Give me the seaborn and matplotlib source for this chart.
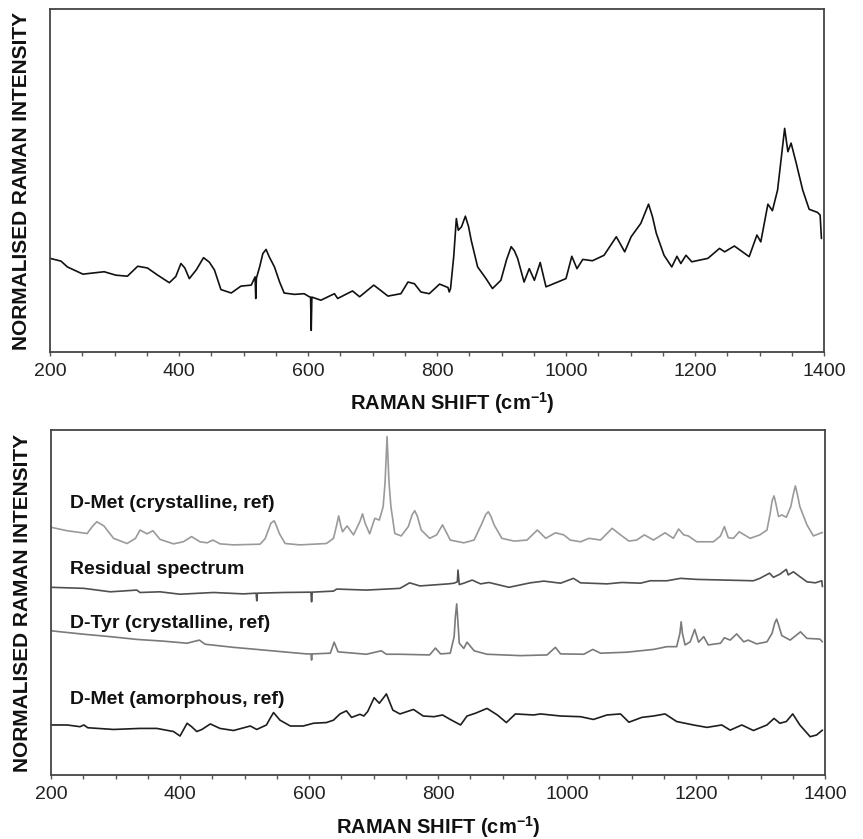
import numpy as np
import pandas as pd
import matplotlib
matplotlib.use("Agg")
import matplotlib.pyplot as plt
from matplotlib.ticker import MultipleLocator
import seaborn as sns

# ---------------- data ----------------
top_x = [200, 217, 227, 251, 284, 302, 320, 336, 351, 367, 385, 395, 403, 409, 416, 427, 438, 447, 455, 465, 481, 496, 512,
         518, 519, 520, 525, 530, 535, 540, 548, 556, 563, 579, 594, 602, 604, 605, 606, 620, 641, 646, 669, 680, 702, 724,
         744, 755, 765, 775, 788, 804, 817, 819, 821, 826, 830, 833, 838, 844, 849, 853, 863, 876, 886, 899, 908, 915,
         920, 925, 935, 943, 951, 960, 969, 982, 1000, 1009, 1017, 1026, 1041, 1059, 1078, 1091, 1101, 1116,
         1128, 1134, 1140, 1152, 1164, 1172, 1178, 1186, 1195, 1220, 1238, 1246, 1261, 1284, 1296, 1302, 1313,
         1320, 1328, 1334, 1339, 1344, 1349, 1357, 1367, 1377, 1390, 1394, 1396]
top_y = [27.3, 26.5, 24.8, 22.7, 23.4, 22.4, 22.1, 25.0, 24.5, 22.4, 20.2, 22.0, 25.8, 24.5, 21.4, 24.0, 27.5, 26.2, 23.9, 18.2, 17.2, 19.2, 19.5,
         21.9, 15.6, 21.5, 24.8, 28.7, 29.9, 27.7, 24.8, 20.4, 17.2, 16.8, 17.0, 16.1, 16.0, 6.3, 16.0, 15.1, 17.0, 15.6, 17.8, 16.1, 19.5, 16.3,
         17.0, 20.4, 19.9, 17.5, 17.0, 19.8, 18.8, 17.5, 18.5, 28.0, 38.9, 35.5, 36.5, 39.6, 36.5, 32.6, 24.8, 21.4, 18.5, 20.9, 27.0, 30.7,
         29.5, 27.3, 20.4, 24.3, 20.9, 26.1, 19.0, 20.0, 21.4, 27.9, 24.3, 27.0, 26.6, 28.2, 33.6, 29.2, 33.6, 37.5,
         43.1, 39.5, 34.6, 28.2, 24.8, 27.9, 25.8, 28.2, 26.3, 27.3, 30.2, 29.2, 30.9, 27.8, 34.1, 32.1, 43.1,
         41.2, 47.2, 57.0, 65.2, 58.4, 60.9, 55.0, 47.2, 41.6, 40.7, 39.9, 33.1]

met_cryst_x = [200, 225, 256, 264, 271, 282, 297, 318, 331, 338, 349, 358, 369, 390, 405, 418, 431, 442, 451, 462, 483,
               524, 532, 537, 541, 546, 550, 554, 563, 586, 627, 638, 643, 646, 649, 652, 659, 669, 679, 683, 687, 694, 702, 709, 715, 718, 721, 724, 727, 733,
               743, 754, 760, 764, 768, 774, 787, 798, 807, 819, 840, 856, 868, 874, 878, 882, 887, 899, 918, 938, 954, 967, 982, 995,
               1005, 1021, 1034, 1052, 1070, 1083, 1096, 1108, 1120, 1134, 1152, 1165, 1173, 1181, 1188, 1201,
               1227, 1238, 1244, 1250, 1258, 1267, 1284, 1299, 1310, 1315, 1318, 1321, 1324, 1328, 1333, 1340, 1347, 1351, 1354,
               1357, 1361, 1372, 1382, 1396]
met_cryst_y = [71.8, 70.8, 70.0, 72.0, 73.4, 72.2, 68.6, 67.1, 68.6, 71.0, 69.9, 70.8, 68.3, 67.0, 67.6, 69.1, 67.6, 67.3, 68.1, 67.0, 66.7,
               66.9, 68.5, 71.0, 73.0, 73.7, 72.0, 70.0, 67.1, 66.7, 67.1, 68.6, 72.5, 75.1, 72.5, 70.5, 72.2, 69.6, 73.5, 75.7, 73.0, 69.9, 74.4, 73.9, 77.8, 85.0, 98.1, 85.0, 77.8, 70.0,
               69.3, 72.0, 75.5, 76.6, 75.0, 71.0, 68.6, 69.6, 72.5, 68.1, 67.3, 68.1, 72.9, 75.5, 76.3, 75.0, 72.5, 68.6, 67.8, 68.1, 71.0, 68.6, 70.2, 69.6,
               68.1, 67.6, 68.6, 68.1, 71.5, 69.6, 67.8, 68.1, 69.6, 68.1, 70.2, 68.6, 71.3, 69.6, 69.3, 67.6,
               67.6, 69.3, 72.0, 68.8, 68.6, 70.5, 68.6, 69.6, 71.0, 75.8, 79.5, 80.9, 78.5, 74.9, 75.4, 74.7, 77.8, 81.5, 83.8,
               81.5, 77.8, 72.5, 69.3, 70.3]

residual_x = [200, 251, 292, 333, 338, 369, 400, 452, 498, 518, 519, 520, 560, 603, 604, 605, 638, 643, 689, 741,
              756, 772, 816, 825, 830, 831, 833, 840, 853, 866, 879, 910, 943, 964, 990, 1010, 1021, 1062, 1085,
              1114, 1129, 1155, 1176, 1201, 1289, 1299, 1314, 1320, 1330, 1340, 1343, 1351, 1361, 1372, 1385,
              1395, 1396]
residual_y = [54.4, 54.1, 53.1, 53.6, 52.9, 53.1, 52.4, 52.9, 52.5, 52.7, 50.5, 52.7, 52.9, 53.0, 50.2, 53.0, 53.3, 53.9, 53.6, 54.1,
              55.7, 54.8, 55.4, 55.6, 56.0, 59.4, 55.2, 55.6, 56.5, 55.4, 55.8, 54.4, 55.7, 56.2, 55.6, 57.0, 55.7, 55.4, 55.8,
              55.6, 56.3, 56.3, 57.0, 56.7, 56.3, 57.0, 58.5, 57.3, 58.2, 59.6, 58.0, 58.9, 57.5, 56.0, 55.7,
              56.3, 54.6]

tyr_x = [200, 251, 292, 333, 374, 411, 430, 439, 483, 519, 560, 596, 603, 604, 605, 633, 639, 645, 689, 712,
         720, 741, 787, 796, 804, 819, 825, 827, 829, 831, 833, 840, 845, 856, 876, 928, 969, 982, 990, 1026, 1040,
         1052, 1093, 1134, 1155, 1170, 1175, 1177, 1179, 1183, 1191, 1198, 1204, 1212, 1219, 1238, 1244, 1253, 1263,
         1274, 1281, 1294, 1310, 1318, 1322, 1325, 1328, 1333, 1346, 1356, 1362, 1372, 1392, 1396]
tyr_y = [41.8, 40.8, 40.1, 39.3, 38.8, 38.2, 39.1, 37.9, 37.0, 36.4, 35.7, 35.1, 35.1, 33.3, 35.1, 35.3, 38.5, 35.7, 35.0, 36.0,
         35.0, 35.0, 34.8, 36.8, 35.1, 35.3, 40.1, 46.0, 49.6, 44.0, 38.2, 36.7, 38.5, 36.0, 35.0, 34.6, 34.8, 37.0, 35.1, 35.0, 36.4,
         35.3, 35.6, 36.4, 37.2, 37.2, 41.0, 44.4, 41.0, 37.7, 38.6, 42.2, 38.5, 40.1, 37.7, 38.2, 39.8, 39.1, 40.9,
         38.6, 39.1, 38.0, 38.6, 41.1, 44.0, 45.2, 43.5, 40.4, 39.1, 40.6, 41.5, 39.6, 39.4, 38.6]

met_amor_x = [200, 225, 245, 251, 257, 297, 338, 364, 390, 400, 411, 418, 426, 434, 447, 462, 483, 509, 519, 534,
              540, 545, 555, 571, 591, 607, 627, 638, 648, 658, 666, 679, 685, 691, 701, 709, 716, 720, 730, 741, 762, 777,
              794, 807, 819, 835, 845, 858, 876, 892, 906, 920, 948, 959, 990, 1021, 1041, 1062, 1083, 1096,
              1116, 1134, 1152, 1170, 1196, 1217, 1240, 1253, 1271, 1289, 1310, 1321, 1330, 1340, 1350, 1361,
              1377, 1387, 1396]
met_amor_y = [14.5, 14.5, 14.0, 14.5, 13.7, 13.2, 13.5, 13.5, 12.6, 11.3, 15.0, 14.0, 12.6, 13.2, 14.8, 13.5, 12.9, 14.2, 13.2, 14.5,
              16.5, 18.1, 15.9, 14.2, 14.2, 15.0, 15.2, 15.9, 17.7, 18.6, 16.7, 17.6, 17.1, 18.4, 22.4, 20.8, 22.5, 23.5, 18.8, 17.7, 19.0, 17.1,
              16.9, 17.4, 16.1, 14.5, 17.1, 17.9, 19.3, 17.4, 15.2, 17.7, 17.4, 17.7, 17.1, 16.9, 16.1, 17.4, 17.7, 15.3,
              16.7, 17.1, 17.7, 15.5, 14.5, 13.8, 14.5, 13.0, 14.5, 12.9, 14.5, 16.4, 15.0, 15.5, 17.7, 14.5,
              11.1, 11.6, 13.0]

series_names = ["D-Met (crystalline, ref)", "Residual spectrum", "D-Tyr (crystalline, ref)", "D-Met (amorphous, ref)"]
series_x = [met_cryst_x, residual_x, tyr_x, met_amor_x]
series_y = [met_cryst_y, residual_y, tyr_y, met_amor_y]
series_colors = ["#9a9a9a", "#505050", "#7a7a7a", "#1e1e1e"]
label_y = [78.7, 59.6, 44.0, 21.9]

x_ticks = [200, 400, 600, 800, 1000, 1200, 1400]

# ---------------- styling ----------------
sns.set_theme(style="white")
plt.rcParams["font.family"] = ["Liberation Sans", "DejaVu Sans"]
plt.rcParams["mathtext.fontset"] = "custom"
plt.rcParams["mathtext.rm"] = "Liberation Sans:bold"
plt.rcParams["mathtext.bf"] = "Liberation Sans:bold"

fig = plt.figure(figsize=(8.63, 8.39), dpi=100)
ax_top = fig.add_axes([50 / 863, 1 - 352 / 839, 774 / 863, 343 / 839])
ax_bot = fig.add_axes([51 / 863, 1 - 775 / 839, 774 / 863, 345 / 839])

sns.lineplot(x=top_x, y=top_y, ax=ax_top, color="#111111", linewidth=1.2,
             estimator=None, sort=False)

for name, xs, ys, col in zip(series_names, series_x, series_y, series_colors):
    df = pd.DataFrame({"x": xs, "y": ys})
    sns.lineplot(data=df, x="x", y="y", ax=ax_bot, color=col, linewidth=1.2,
                 estimator=None, sort=False)

for name, ly in zip(series_names, label_y):
    ax_bot.text(230, ly, name, fontsize=14, fontweight="bold", ha="left",
                va="center", color="#111111")

for ax, lx in ((ax_top, 0.52), (ax_bot, 0.5)):
    ax.set_xlim(200, 1400)
    ax.set_ylim(0, 100)
    ax.set_xticks(x_ticks)
    ax.set_xticklabels([str(t) for t in x_ticks])
    ax.xaxis.set_minor_locator(MultipleLocator(50))
    ax.set_yticks([])
    ax.tick_params(axis="x", which="both", direction="out", length=3, width=1,
                   color="#555555", labelsize=14, pad=5, bottom=True,
                   labelcolor="#222222")
    for s in ax.spines.values():
        s.set_color("#444444")
        s.set_linewidth(1.3)
    ax.set_xlabel(r"RAMAN SHIFT (cm$^{-1}$)", fontsize=14.5, fontweight="bold",
                  color="#111111")
    ax.xaxis.set_label_coords(lx, -0.112)
    ax.set_ylabel("NORMALISED RAMAN INTENSITY", fontsize=15, fontweight="bold",
                  color="#111111")
    ax.yaxis.set_label_coords(-0.024, 0.5)

fig.savefig("out.png", dpi=100)
